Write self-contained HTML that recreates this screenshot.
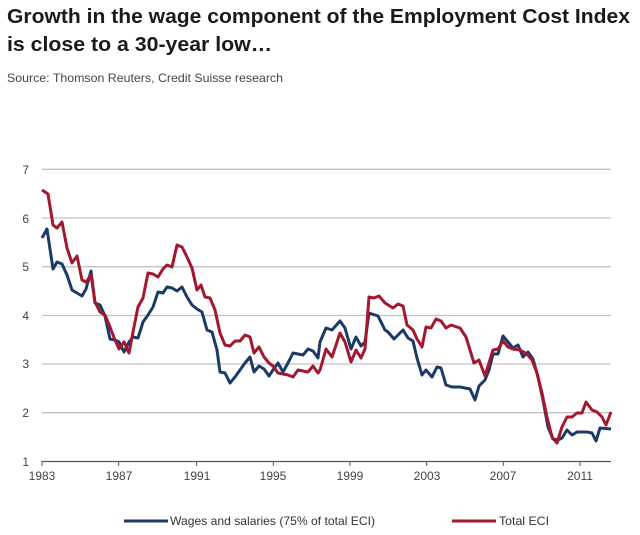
<!DOCTYPE html>
<html><head><meta charset="utf-8"><style>
html,body{margin:0;padding:0;background:#fff;}
svg{display:block;font-family:"Liberation Sans",Arial,sans-serif;}
</style></head><body>
<svg width="640" height="535" viewBox="0 0 640 535" xmlns="http://www.w3.org/2000/svg">
<text x="7" y="23" font-size="20" font-weight="bold" fill="#1a1a1a" textLength="623" lengthAdjust="spacingAndGlyphs">Growth in the wage component of the Employment Cost Index</text>
<text x="7" y="51" font-size="20" font-weight="bold" fill="#1a1a1a" textLength="265" lengthAdjust="spacingAndGlyphs">is close to a 30-year low…</text>
<text x="7" y="82" font-size="12" fill="#444" textLength="276" lengthAdjust="spacingAndGlyphs">Source: Thomson Reuters, Credit Suisse research</text>
<g stroke="#c4c2bf" stroke-width="1.3">
<line x1="42" x2="611" y1="169.3" y2="169.3"/>
<line x1="42" x2="611" y1="218" y2="218"/>
<line x1="42" x2="611" y1="266.7" y2="266.7"/>
<line x1="42" x2="611" y1="315.5" y2="315.5"/>
<line x1="42" x2="611" y1="364" y2="364"/>
<line x1="42" x2="611" y1="412.7" y2="412.7"/>
</g>
<line x1="42" x2="611" y1="461.5" y2="461.5" stroke="#555" stroke-width="1.2"/>
<g stroke="#555" stroke-width="1">
<line x1="42" x2="42" y1="461" y2="466"/><line x1="118.7" x2="118.7" y1="461" y2="466"/>
<line x1="196.7" x2="196.7" y1="461" y2="466"/><line x1="273.3" x2="273.3" y1="461" y2="466"/>
<line x1="350" x2="350" y1="461" y2="466"/><line x1="426.7" x2="426.7" y1="461" y2="466"/>
<line x1="503.3" x2="503.3" y1="461" y2="466"/><line x1="580" x2="580" y1="461" y2="466"/>
</g>
<g font-size="12" fill="#444" text-anchor="end">
<text x="29" y="174">7</text><text x="29" y="223">6</text><text x="29" y="271">5</text>
<text x="29" y="320">4</text><text x="29" y="368">3</text><text x="29" y="417">2</text><text x="29" y="466">1</text>
</g>
<g font-size="12" fill="#444" text-anchor="middle">
<text x="42" y="480">1983</text><text x="119" y="480">1987</text><text x="197" y="480">1991</text>
<text x="273" y="480">1995</text><text x="350" y="480">1999</text><text x="427" y="480">2003</text>
<text x="503" y="480">2007</text><text x="580" y="480">2011</text>
</g>
<polyline fill="none" stroke="#1b3a66" stroke-width="3" stroke-linejoin="round" points="42,238 47,229 53,269 57,262 62,264 67,275 72,290 77,293 82,296 86,289 91,271 95,303 100,305 105,316 110,339 115,340 119,342 124,352 129,342 133,337 138,338 143,322 148,315 153,307 158,292 163,293 167,287 172,288 177,291 182,287 187,297 192,305 197,309 202,312 207,330 212,332 217,350 220,372 225,373 230,383 235,377 240,370 245,363 250,357 254,372 259,366 264,369 269,376 273,370 278,363 283,372 288,363 293,353 298,354 303,355 308,349 313,351 318,358 320,342 326,328 332,330 340,321 345,328 351,349 356,337 361,346 365,342 369,313 378,316 385,330 388,332 394,339 403,330 408,338 413,341 417,358 422,375 426,370 432,377 437,367 441,368 446,385 452,387 460,387 470,389 475,400 479,386 485,380 489,370 493,354 498,354 503,336 508,342 513,348 518,345 523,357 528,352 533,359 538,377 543,400 548,427 553,439 558,440 562,438 567,430 572,435 577,432 587,432 592,433 596,441 600,428 611,429"/>
<polyline fill="none" stroke="#a3172f" stroke-width="3" stroke-linejoin="round" points="42,190 48,194 53,225 57,228 62,222 67,248 72,263 77,256 82,280 86,282 91,275 95,302 100,312 105,315 110,327 115,340 119,349 124,342 129,353 133,332 138,307 143,298 148,273 153,274 158,277 163,269 167,265 172,267 177,245 182,247 187,257 192,268 197,290 201,285 205,297 210,298 215,310 220,333 225,345 230,346 235,341 240,341 245,335 250,337 254,353 259,347 264,357 269,363 273,366 278,373 283,374 288,375 293,377 298,370 303,371 308,372 313,366 318,373 320,370 326,349 332,357 340,333 345,342 351,362 356,350 361,358 365,349 369,297 374,298 379,296 385,303 393,308 398,304 403,306 407,325 413,330 417,339 422,347 426,327 431,328 436,319 441,321 446,328 451,325 460,328 466,337 470,350 474,363 479,360 485,376 489,363 493,350 498,349 503,341 508,347 513,349 520,350 527,354 532,360 537,373 542,393 547,417 552,437 557,443 562,427 567,417 572,417 577,413 582,413 586,402 592,410 597,412 602,417 606,425 611,412"/>
<line x1="124" x2="168" y1="521" y2="521" stroke="#1b3a66" stroke-width="3"/>
<text x="170" y="525" font-size="12" fill="#333" textLength="205" lengthAdjust="spacingAndGlyphs">Wages and salaries (75% of total ECI)</text>
<line x1="452" x2="496" y1="521" y2="521" stroke="#a3172f" stroke-width="3"/>
<text x="499" y="525" font-size="12" fill="#333" textLength="50" lengthAdjust="spacingAndGlyphs">Total ECI</text>
</svg>
</body></html>
